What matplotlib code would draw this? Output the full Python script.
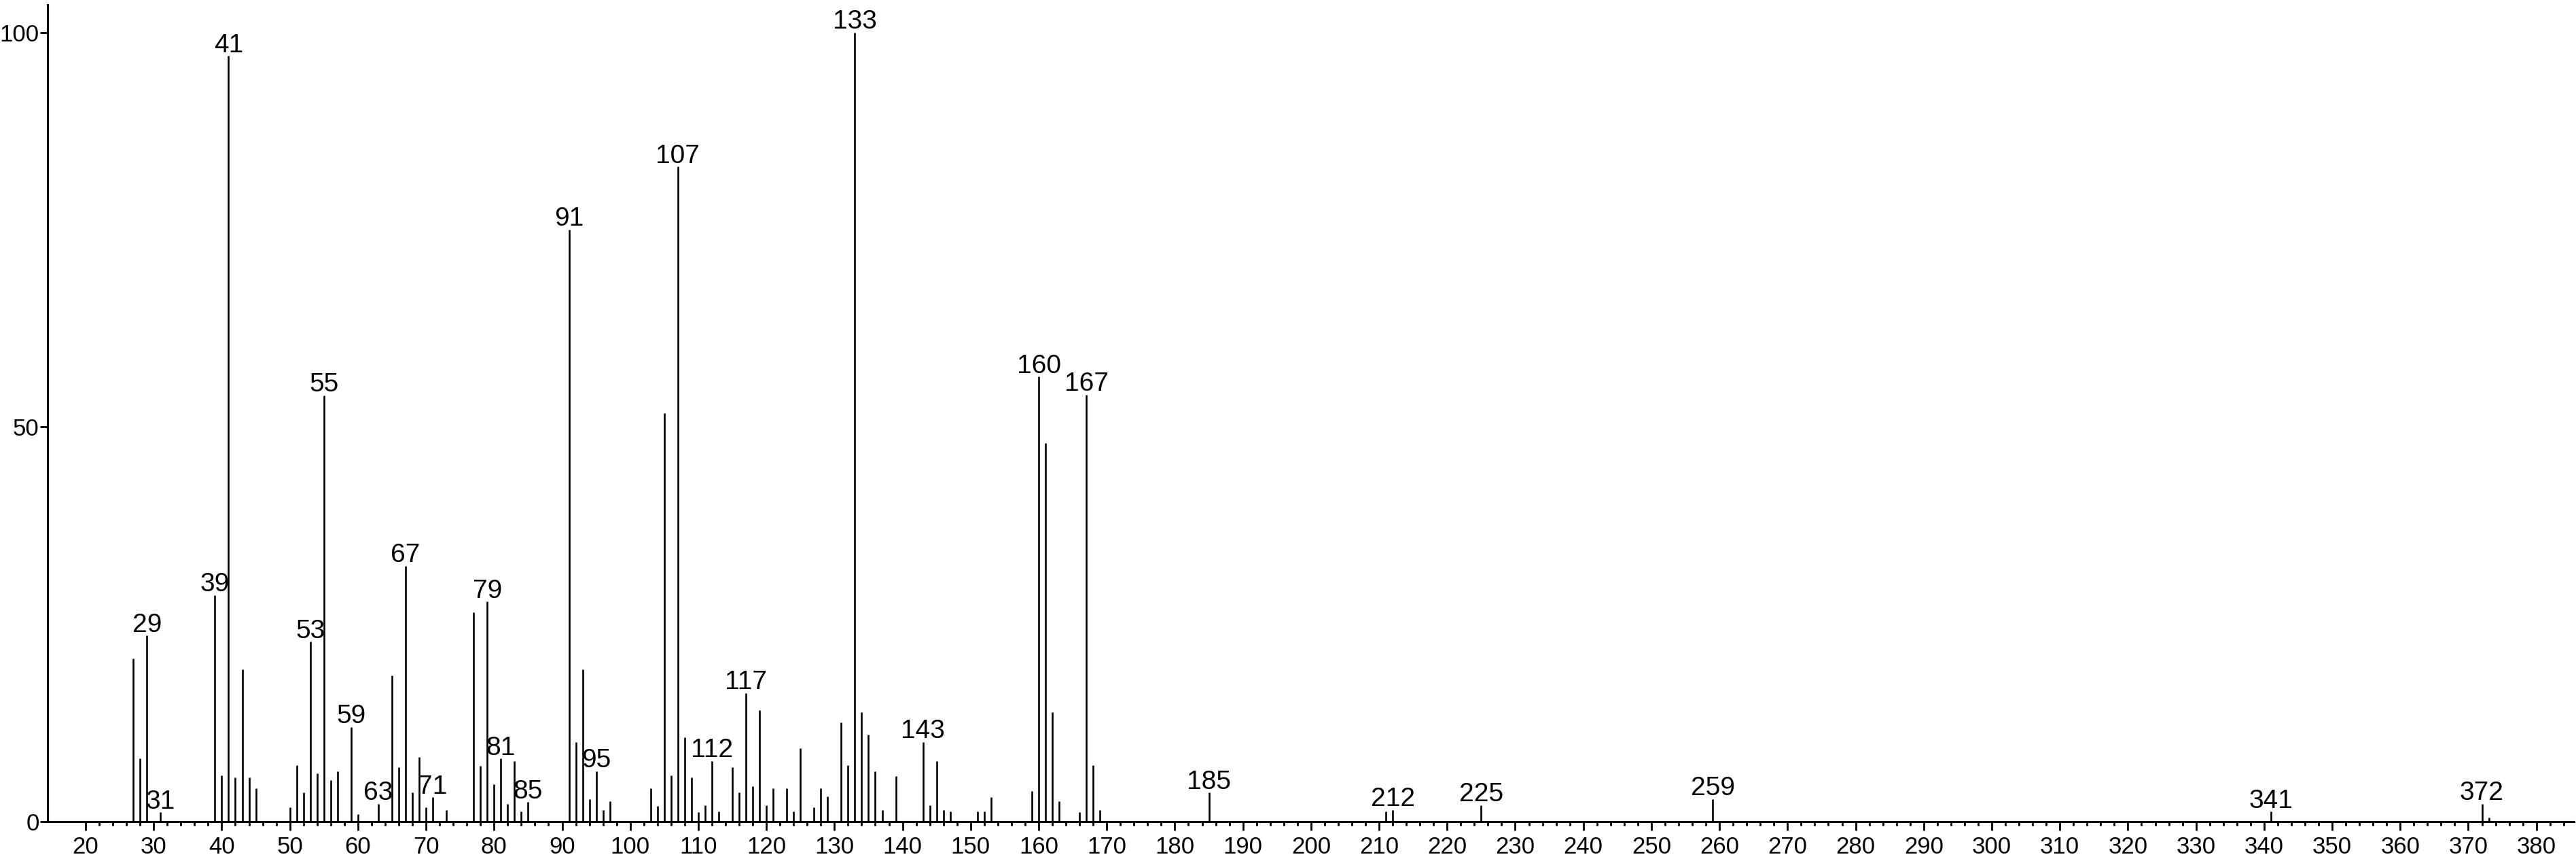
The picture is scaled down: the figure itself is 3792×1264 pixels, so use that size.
#!/usr/bin/env python3

import numpy as np
import matplotlib
matplotlib.use("Agg")
import matplotlib.pyplot as plt

plt.rcParams['font.family'] = ['Liberation Sans', 'DejaVu Sans']

# m/z values and relative intensities
mz = [27, 28, 29, 31, 39, 40, 41, 42, 43, 44, 45,
      50, 51, 52, 53, 54, 55, 56, 57, 59, 60, 63,
      65, 66, 67, 68, 69, 70, 71, 73, 77, 78, 79, 80, 81, 82, 83, 84, 85,
      91, 92, 93, 94, 95, 96, 97, 103, 104, 105, 106, 107, 108, 109, 110,
      111, 112, 113, 115, 116, 117, 118, 119, 120, 121, 123, 124, 125,
      127, 128, 129, 131, 132, 133, 134, 135, 136, 137, 139, 143, 144,
      145, 146, 147, 151, 152, 153, 159, 160, 161, 162, 163, 166, 167,
      168, 169, 185, 211, 212, 225, 259, 341, 372, 373]
intensity = [20.7, 8.0, 23.6, 1.2, 28.7, 5.9, 97.0, 5.6, 19.3, 5.6, 4.2,
             1.8, 7.2, 3.7, 22.8, 6.1, 54.0, 5.3, 6.4, 12.0, 1.0, 2.3,
             18.5, 6.9, 32.4, 3.7, 8.2, 1.8, 3.1, 1.5, 26.5, 7.1, 27.9, 4.8, 8.0, 2.3, 7.7, 1.3, 2.5,
             75.0, 10.1, 19.3, 2.9, 6.4, 1.5, 2.6, 4.2, 2.0, 51.8, 5.9, 83.0, 10.7, 5.6, 1.2,
             2.1, 7.7, 1.3, 6.9, 3.7, 16.3, 4.5, 14.1, 2.1, 4.2, 4.2, 1.3, 9.3,
             1.8, 4.2, 3.2, 12.6, 7.2, 100.0, 13.9, 11.0, 6.4, 1.5, 5.8, 10.1, 2.1,
             7.7, 1.5, 1.3, 1.3, 1.3, 3.1, 3.9, 56.4, 48.0, 13.9, 2.6, 1.2, 54.1,
             7.2, 1.5, 3.7, 1.3, 1.5, 2.1, 2.9, 1.3, 2.3, 0.5]

# peaks that carry a label
labeled = [29, 31, 39, 41, 53, 55, 59, 63, 67, 71, 79, 81, 85, 91, 95, 107,
           112, 117, 133, 143, 160, 167, 185, 212, 225, 259, 341, 372]

fig = plt.figure(figsize=(37.92, 12.64), dpi=100)
ax = fig.add_axes([0.01846, 0.0433, 0.9807, 0.9512])

ax.vlines(mz, 0, intensity, color='black', lw=1.9)

peak = dict(zip(mz, intensity))
for m in labeled:
    ax.annotate(str(m), (m, peak[m]), xytext=(0, 4), textcoords='offset points',
                ha='center', va='baseline', fontsize=28)

ax.set_xlim(14.41, 385.5)
ax.set_ylim(0, 103.5)

ax.set_xticks(np.arange(20, 381, 10))
ax.set_xticks(np.arange(20, 385, 2), minor=True)
ax.set_yticks([0, 50, 100])

ax.tick_params(axis='x', which='major', direction='out', length=9, width=2, labelsize=25, pad=6)
ax.tick_params(axis='x', which='minor', direction='out', length=4.5, width=2)
ax.tick_params(axis='y', which='major', direction='out', length=8, width=2, labelsize=25, pad=1)

for s in ['top', 'right']:
    ax.spines[s].set_visible(False)
for s in ['left', 'bottom']:
    ax.spines[s].set_linewidth(2.2)

fig.savefig('out.png', dpi=100)
